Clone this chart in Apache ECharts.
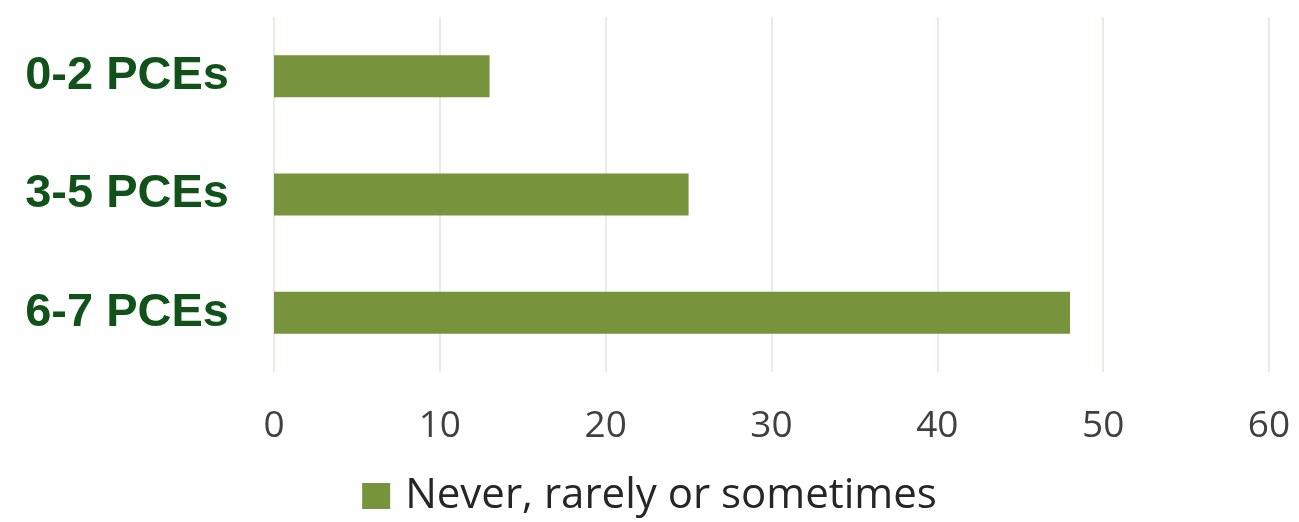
<!DOCTYPE html>
<html>
<head>
<meta charset="utf-8">
<script src="https://cdn.jsdelivr.net/npm/echarts@6/dist/echarts.min.js"></script>
<style>
  html, body { margin: 0; padding: 0; background: #ffffff; }
  #chart { width: 1299px; height: 522px; }
</style>
</head>
<body>
<div id="chart"></div>
<script>
// Number of positive childhood experiences (PCEs) groups
const categories = ['0-2 PCEs', '3-5 PCEs', '6-7 PCEs'];
// Share answering "Never, rarely or sometimes" per group
const neverRarelySometimes = [13, 25, 48];
const seriesName = 'Never, rarely or sometimes';
const xTicks = { min: 0, max: 60, interval: 10 };

const chart = echarts.init(document.getElementById('chart'), null, { renderer: 'canvas' });
chart.setOption({
  animation: false,
  backgroundColor: '#ffffff',
  grid: { left: 274, right: 30, top: 17, height: 355, containLabel: false },
  legend: {
    bottom: 0,
    left: 'center',
    itemWidth: 28,
    itemHeight: 26,
    itemGap: 10,
    icon: 'rect',
    textStyle: { fontFamily: 'Open Sans', fontSize: 42, color: '#262626', padding: [0, 0, 0, 10] },
    data: [seriesName]
  },
  xAxis: {
    type: 'value',
    min: xTicks.min,
    max: xTicks.max,
    interval: xTicks.interval,
    axisLine: { show: false },
    axisTick: { show: false },
    splitLine: { show: true, lineStyle: { color: '#dce9dc', width: 1.5 } },
    axisLabel: { margin: 36, fontFamily: 'Open Sans', fontSize: 37, color: '#404040' }
  },
  yAxis: {
    type: 'category',
    inverse: true,
    data: categories,
    axisLine: { show: false },
    axisTick: { show: false },
    axisLabel: {
      margin: 45,
      fontFamily: 'Liberation Sans',
      fontWeight: 'bold',
      fontSize: 47,
      color: '#10521a'
    }
  },
  series: [{
    name: seriesName,
    type: 'bar',
    data: neverRarelySometimes,
    barWidth: 42,
    itemStyle: { color: '#77933c' }
  }]
});
</script>
</body>
</html>
